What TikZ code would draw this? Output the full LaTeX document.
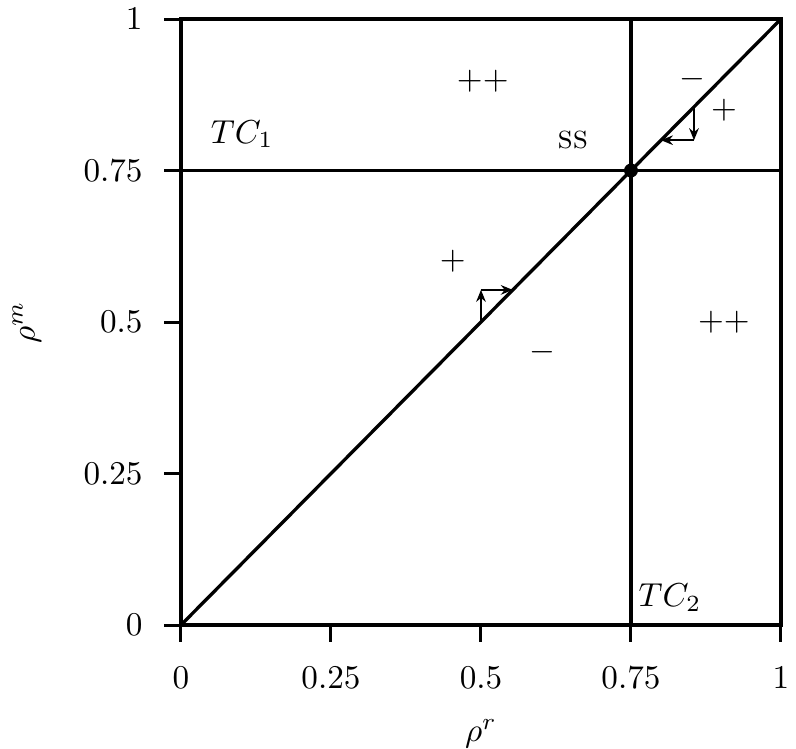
\documentclass[tikz,border=0pt]{standalone}
\usetikzlibrary{arrows.meta}
\begin{document}
\begin{tikzpicture}[x=0.3014pt,y=0.3014pt,
  mainline/.style={line width=1.0pt},
  arr/.style={line width=0.55pt,-{Stealth[length=3.6pt,width=2.9pt]}},
  tickmark/.style={line width=0.9pt},
  lab/.style={inner sep=0pt}]
\useasboundingbox (0,0) rectangle (796,748);
\begin{scope}[shift={(54.55pt,37.07pt)},x=180.84pt,y=182.65pt]
  % frame
  \draw[mainline] (0,0) rectangle (1,1);
  % ticks
  \foreach \v/\t in {0/0,0.25/0.25,0.5/0.5,0.75/0.75,1/1}{
    \draw[tickmark] (\v,0) -- ++(0,-5.1pt);
    \draw[tickmark] (0,\v) -- ++(-5.1pt,0);
    \node[lab,anchor=center] at ([yshift=-16pt]\v,0) {$\t$};
    \node[lab,anchor=east] at ([xshift=-11.4pt]0,\v) {$\t$};
  }
  % lines
  \coordinate (O) at (0,0);
  \coordinate (I) at (1,1);
  \coordinate (SS) at (0.75,0.75);
  \coordinate (L1) at (0,0.75);
  \coordinate (R1) at (1,0.75);
  \coordinate (B2) at (0.75,0);
  \coordinate (T2) at (0.75,1);
  \draw[mainline] (O) -- (I);
  \draw[mainline] (L1) -- (R1);
  \draw[mainline] (B2) -- (T2);
  \fill (SS) circle (2.1pt);
  % small arrows
  \coordinate (a0) at (0.5,0.5);
  \coordinate (a1) at (0.5,0.553);
  \coordinate (a2) at (0.553,0.553);
  \draw[arr] (a0) -- (a1);
  \draw[arr] (a1) -- (a2);
  \coordinate (b0) at (0.855,0.855);
  \coordinate (b1) at (0.855,0.8);
  \coordinate (b2) at (0.8,0.8);
  \draw[arr] (b0) -- (b1);
  \draw[arr] (b1) -- (b2);
  % labels
  \node[lab] (pp1) at (0.503,0.897) {$++$};
  \node[lab] (m1) at (0.853,0.9) {$-$};
  \node[lab] (p1) at (0.905,0.85) {$+$};
  \node[lab] (ssl) at (0.653,0.8) {\textsc{ss}};
  \node[lab] (tc1) at (0.102,0.81) {$TC_1$};
  \node[lab] (p2) at (0.453,0.6) {$+$};
  \node[lab] (m2) at (0.603,0.45) {$-$};
  \node[lab] (pp2) at (0.905,0.5) {$++$};
  \node[lab] (tc2) at (0.815,0.045) {$TC_2$};
  \node[lab] (xl) at (0.5,-0.18) {$\rho^r$};
  \node[lab,rotate=90] (yl) at (-0.257,0.5) {$\rho^m$};
\end{scope}
\end{tikzpicture}
\end{document}
